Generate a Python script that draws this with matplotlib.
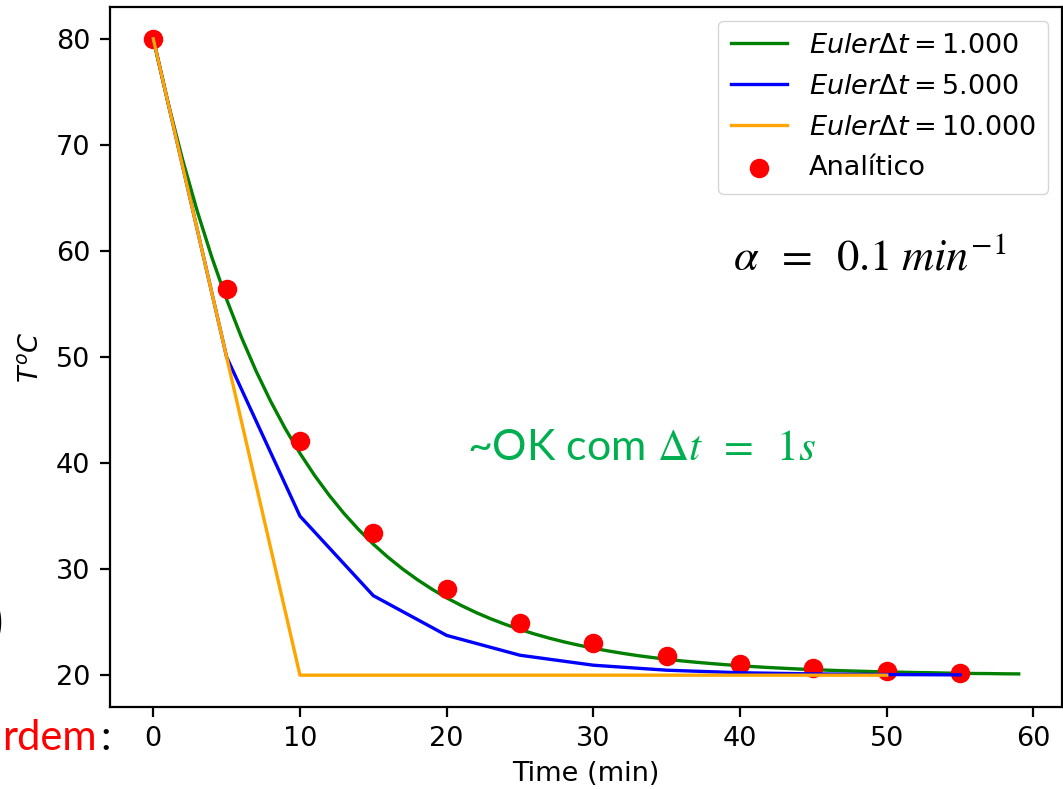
import matplotlib
matplotlib.use('Agg')
import matplotlib.pyplot as plt

# Euler, passo 1 min
t_euler1 = list(range(0, 60))
T_euler1 = [80.00, 74.00, 68.60, 63.74, 59.37, 55.43, 51.89, 48.70, 45.83, 43.24,
            40.92, 38.83, 36.95, 35.25, 33.73, 32.35, 31.12, 30.01, 29.01, 28.11,
            27.29, 26.57, 25.91, 25.32, 24.79, 24.31, 23.88, 23.49, 23.14, 22.83,
            22.54, 22.29, 22.06, 21.85, 21.67, 21.50, 21.35, 21.22, 21.10, 20.99,
            20.89, 20.80, 20.72, 20.65, 20.58, 20.52, 20.47, 20.42, 20.38, 20.34,
            20.31, 20.28, 20.25, 20.23, 20.20, 20.18, 20.16, 20.15, 20.13, 20.12]

# Euler, passo 5 min
t_euler5 = [0, 5, 10, 15, 20, 25, 30, 35, 40, 45, 50, 55]
T_euler5 = [80.0, 50.0, 35.0, 27.5, 23.75, 21.88, 20.94, 20.47, 20.23, 20.12, 20.06, 20.03]

# Euler, passo 10 min
t_euler10 = [0, 10, 20, 30, 40, 50]
T_euler10 = [80.0, 20.0, 20.0, 20.0, 20.0, 20.0]

# Soluzione analitica
t_anal = [0, 5, 10, 15, 20, 25, 30, 35, 40, 45, 50, 55]
T_anal = [80.0, 56.39, 42.07, 33.39, 28.12, 24.93, 22.99, 21.81, 21.10, 20.67, 20.40, 20.25]

fig = plt.figure(figsize=(10.63, 7.89), dpi=100)
ax = fig.add_axes([110 / 1063, 1 - 707 / 789, 952 / 1063, 700 / 789])

lw = 2.4
l1, = ax.plot(t_euler1, T_euler1, color='green', lw=lw, label=r'$Euler\Delta t = 1.000$', zorder=2)
sc = ax.scatter(t_anal, T_anal, color='red', s=170, label='Analítico', zorder=3)
l2, = ax.plot(t_euler5, T_euler5, color='blue', lw=lw, label=r'$Euler\Delta t = 5.000$', zorder=4)
l3, = ax.plot(t_euler10, T_euler10, color='orange', lw=lw, label=r'$Euler\Delta t = 10.000$', zorder=5)

fs = 19.5
ax.set_xlabel('Time (min)', fontsize=fs, labelpad=6)
ax.set_ylabel(r'$T^oC$', fontsize=fs, labelpad=8)
ax.set_xticks([0, 10, 20, 30, 40, 50, 60])
ax.set_yticks([20, 30, 40, 50, 60, 70, 80])
ax.tick_params(labelsize=fs, length=7, width=1.6, pad=7)
for sp in ax.spines.values():
    sp.set_linewidth(1.6)

ax.legend(handles=[l1, l2, l3, sc], loc='upper right', fontsize=fs,
          handlelength=2.1, borderpad=0.45, labelspacing=0.55,
          handletextpad=0.8, borderaxespad=0.5)

# testi aggiunti sulla slide
fig.text(733 / 1063, 1 - 270 / 789, r'$\alpha\;\;=\;\;0.1\;min^{-1}$', fontsize=32,
         math_fontfamily='stix', color='black', va='baseline', ha='left')
fig.text(467 / 1063, 1 - 460 / 789, r'~OK com $\Delta t\;\;=\;\;1s$', fontsize=31,
         family='Lato', math_fontfamily='stix', color='#00B050',
         va='baseline', ha='left')
fig.text(97 / 1063, 1 - 750 / 789, 'rdem', fontsize=30, family='Lato',
         color='red', va='baseline', ha='right')
fig.text(100 / 1063, 1 - 750 / 789, ':', fontsize=30, family='Lato',
         color='black', va='baseline', ha='left')
fig.text(-12 / 1063, 1 - 640 / 789, ')', fontsize=40, family='Lato',
         color='black', va='baseline', ha='left')

fig.savefig('out.png', dpi=100)
